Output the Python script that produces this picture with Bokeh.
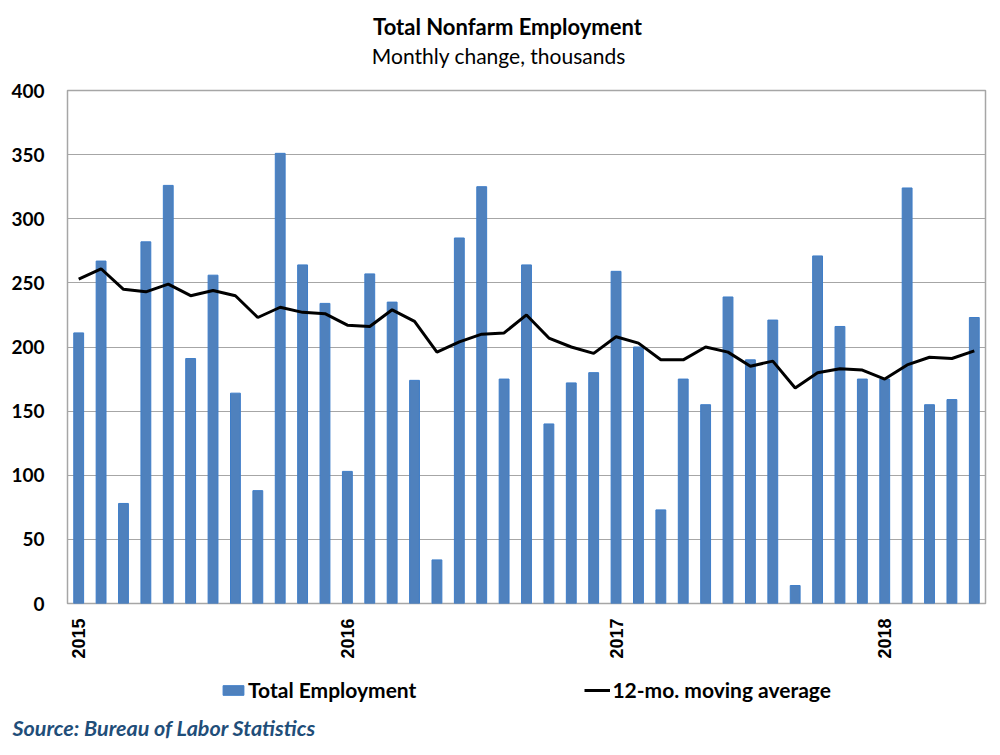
import math
from bokeh.plotting import figure
from bokeh.layouts import column
from bokeh.models import (Range1d, FixedTicker, Label, Legend, LegendItem,
                          ColumnDataSource, Title)
from bokeh.embed import file_html
from bokeh.resources import INLINE

# ---- data ----
years = ["2015", "2016", "2017", "2018"]
months = [f"{y}-{m:02d}" for y in years for m in range(1, 13)][:41]

# Monthly change in total nonfarm employment, thousands
jobs = [211, 267, 78, 282, 326, 191, 256, 164, 88, 351, 264, 234,
        103, 257, 235, 174, 34, 285, 325, 175, 264, 140, 172, 180,
        259, 200, 73, 175, 155, 239, 190, 221, 14, 271, 216, 175,
        175, 324, 155, 159, 223]

# 12-month moving average, thousands
moving_avg = [253, 261, 245, 243, 249, 240, 244, 240, 223, 231, 227, 226,
              217, 216, 229, 220, 196, 204, 210, 211, 225, 207, 200, 195,
              208, 203, 190, 190, 200, 196, 185, 189, 168, 180, 183, 182,
              175, 186, 192, 191, 197]

y_ticks = [0, 50, 100, 150, 200, 250, 300, 350, 400]

title_text = "Total Nonfarm Employment"
subtitle_text = "Monthly change,  thousands"
source_text = "Source: Bureau of Labor Statistics"
bar_label = "Total Employment"
line_label = "12-mo. moving average"

BAR_FILL = "#4F81BD"
BAR_EDGE = "#3E7DC8"
W = 997
BORDER_L = 67
BORDER_R = 12
HEADER_H = 80
FOOTER_H = 84
FOOTER_BOTTOM = 47
NAN = float("nan")


def blank_panel(h, bottom=0):
    # frames of the column's children are aligned with the chart's frame,
    # so the x range is expressed in page pixels across that frame
    f = figure(width=W, height=h, output_backend="svg", toolbar_location=None,
               title=None, x_axis_type=None, y_axis_type=None,
               x_range=Range1d(BORDER_L, W - BORDER_R),
               y_range=Range1d(0, h - bottom),
               min_border=0, min_border_left=BORDER_L,
               min_border_right=BORDER_R, min_border_top=0,
               min_border_bottom=bottom)
    f.outline_line_color = None
    f.background_fill_color = "white"
    f.border_fill_color = "white"
    f.grid.visible = False
    return f


# ---- header (titles) ----
head = blank_panel(HEADER_H)
head.add_layout(Label(x=507, y=HEADER_H - 26, text=title_text,
                      text_align="center", text_baseline="middle",
                      text_font="Lato", text_font_style="bold",
                      text_font_size="22px", text_color="black"))
head.add_layout(Label(x=501, y=HEADER_H - 55, text=subtitle_text,
                      text_align="center", text_baseline="middle",
                      text_font="Lato", text_font_style="normal",
                      text_font_size="21px", text_color="black"))

# ---- main chart ----
idx = list(range(len(months)))
src = ColumnDataSource(dict(x=idx, month=months, jobs=jobs, ma=moving_avg))

year_ticks = [i for i, m in enumerate(months) if m.endswith("-01")]
year_labels = {i: months[i][:4] for i in year_ticks}

p = figure(frame_width=W - BORDER_L - BORDER_R, frame_height=513,
           output_backend="svg", toolbar_location=None, title=None,
           x_range=Range1d(-0.5, len(months) - 0.5), y_range=Range1d(0, 400),
           min_border_left=BORDER_L, min_border_right=BORDER_R,
           min_border_top=10, min_border_bottom=67)

p.background_fill_color = "white"
p.border_fill_color = "white"
p.outline_line_color = "#A6A6A6"
p.outline_line_width = 1.5

p.xgrid.visible = False
p.ygrid.grid_line_color = "#A6A6A6"
p.ygrid.grid_line_width = 1.2

ya = p.yaxis[0]
ya.ticker = FixedTicker(ticks=y_ticks)
ya.axis_line_color = None
ya.major_tick_line_color = None
ya.minor_tick_line_color = None
ya.major_label_text_font = "Lato"
ya.major_label_text_font_style = "bold"
ya.major_label_text_font_size = "19px"
ya.major_label_text_color = "black"
ya.major_label_standoff = 17

xa = p.xaxis[0]
xa.ticker = FixedTicker(ticks=year_ticks)
xa.major_label_overrides = year_labels
xa.major_label_orientation = math.pi / 2
xa.axis_line_color = None
xa.major_tick_line_color = None
xa.minor_tick_line_color = None
xa.major_label_text_font = "Liberation Sans"
xa.major_label_text_font_style = "bold"
xa.major_label_text_font_size = "18px"
xa.major_label_text_color = "black"
xa.major_label_standoff = 9

p.vbar(x="x", top="jobs", width=0.44, source=src,
       fill_color=BAR_FILL, line_color=BAR_EDGE, line_width=1)
p.line(x="x", y="ma", source=src, line_color="black", line_width=3)

# ---- footer (legend + source) ----
foot = blank_panel(FOOTER_H, FOOTER_BOTTOM)
# legend proxies: same styles as the chart's glyphs, no visible data
lb = foot.vbar(x=[NAN], top=[NAN], width=1, fill_color=BAR_FILL,
               line_color=BAR_EDGE, line_width=1)
ll = foot.line(x=[NAN, NAN], y=[NAN, NAN], line_color="black", line_width=3)
legend = Legend(items=[LegendItem(label=bar_label, renderers=[lb]),
                       LegendItem(label=line_label, renderers=[ll])],
                orientation="horizontal", location=(220 - BORDER_L, 5),
                spacing=168, glyph_width=26, glyph_height=12, label_standoff=2,
                label_text_font="Lato", label_text_font_style="bold",
                label_text_font_size="21px", label_text_color="black",
                border_line_color=None, background_fill_alpha=0,
                padding=0, margin=0)
foot.add_layout(legend, "center")
foot.add_layout(Title(text=source_text, align="left", offset=12 - BORDER_L,
                      text_font="Lato", text_font_style="bold italic",
                      text_font_size="21.5px", text_color="#1F4E79"), "below")

layout = column(head, p, foot, spacing=0)
open("out.html", "w").write(file_html(layout, INLINE))
